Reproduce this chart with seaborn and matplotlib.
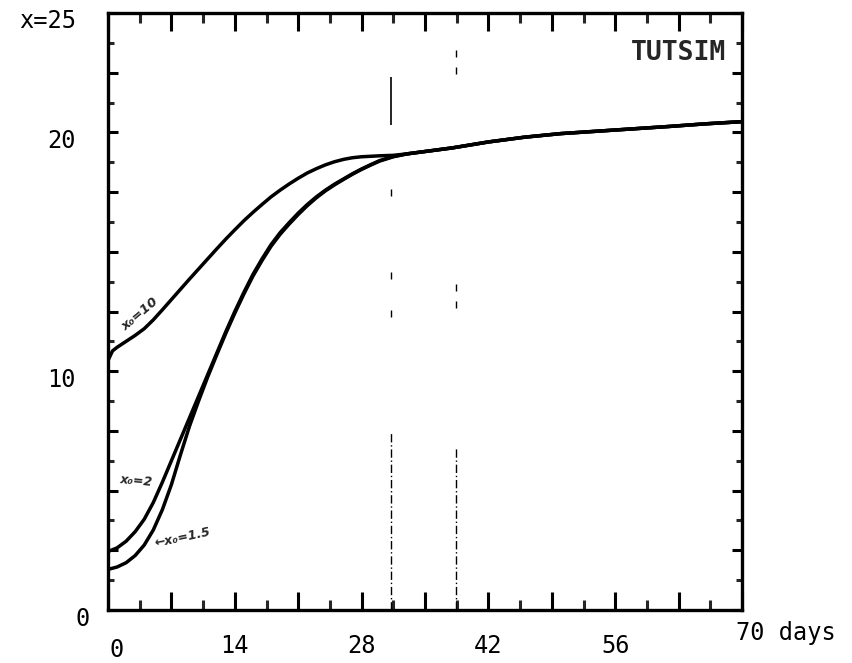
import numpy as np
import pandas as pd
import matplotlib
matplotlib.use("Agg")
import matplotlib.pyplot as plt
import matplotlib.transforms as mtransforms
from matplotlib.ticker import FixedLocator
import seaborn as sns

# ---------------- data ----------------
days_x10 = [0, 0.5, 1, 2, 3, 4, 5, 6, 7, 8, 9, 10, 11, 12, 13, 14, 15, 16, 17, 18, 19, 20,
            21, 22, 23, 24, 25, 26, 27, 28, 29, 30]
vals_x10 = [10.45, 10.85, 11.0, 11.25, 11.5, 11.78, 12.15, 12.57, 13.0, 13.43, 13.86, 14.28,
            14.7, 15.12, 15.53, 15.92, 16.3, 16.65, 16.98, 17.3, 17.58, 17.84, 18.08, 18.3,
            18.48, 18.64, 18.77, 18.87, 18.94, 18.98, 19.0, 19.02]

days_x2 = [0, 1, 2, 3, 4, 5, 6, 7, 8, 9, 10, 11, 12, 13, 14, 15, 16, 17, 18, 19, 20, 21, 22,
           23, 24, 25, 26, 27, 28, 29, 30]
vals_x2 = [2.45, 2.6, 2.88, 3.28, 3.8, 4.5, 5.35, 6.25, 7.15, 8.05, 8.95, 9.85, 10.75, 11.65,
           12.5, 13.3, 14.05, 14.7, 15.3, 15.8, 16.22, 16.62, 16.98, 17.3, 17.58, 17.83, 18.05,
           18.27, 18.47, 18.65, 18.82]

days_x15 = [0, 1, 2, 3, 4, 5, 6, 7, 8, 9, 10, 11, 12, 13, 14, 15, 16, 17, 18, 19, 20, 21, 22,
            23, 24, 25, 26, 27, 28, 29, 30]
vals_x15 = [1.7, 1.8, 1.98, 2.28, 2.72, 3.35, 4.2, 5.25, 6.5, 7.7, 8.75, 9.75, 10.68, 11.58,
            12.43, 13.23, 13.98, 14.63, 15.23, 15.73, 16.16, 16.56, 16.93, 17.26, 17.55, 17.8,
            18.03, 18.25, 18.45, 18.63, 18.8]

# ends of the three curves where they join (day 31.5), then the shared tail
join_vals = [19.04, 18.99, 18.98]
days_tail = [33, 35, 38, 42, 46, 50, 54, 58, 62, 66, 70]
vals_tail = [19.1, 19.2, 19.35, 19.6, 19.8, 19.95, 20.05, 20.15, 20.25, 20.36, 20.45]

curve_names = ["x₀=10", "x₀=2", "x₀=1.5"]

# vertical dash-dot markers: (day, ymin, ymax)
vline_dashdot = [(31.2, 0.0, 7.4), (38.4, 0.0, 6.8)]
vline_solid = [(31.2, 20.3, 22.3)]
vline_dots = [(31.2, 17.5), (31.2, 14.0), (31.2, 12.4), (38.4, 13.5), (38.4, 12.8),
              (38.4, 23.3), (38.4, 22.6)]

x_major = [0, 7, 14, 21, 28, 35, 42, 49, 56, 63, 70]
x_labels = ["0", "", "14", "", "28", "", "42", "", "56", "", "70 days"]
y_major = [0, 2.5, 5, 7.5, 10, 12.5, 15, 17.5, 20, 22.5, 25]
y_labels = ["0", "", "", "", "10", "", "", "", "20", "", "x=25"]

# ---------------- build table ----------------
rows = []
for name, d, v, j in zip(curve_names, [days_x10, days_x2, days_x15],
                         [vals_x10, vals_x2, vals_x15], join_vals):
    for xx, yy in zip(list(d) + [31.5] + days_tail, list(v) + [j] + vals_tail):
        rows.append({"curve": name, "day": xx, "value": yy})
df = pd.DataFrame(rows)

sns.set_style("white")
plt.rcParams["font.family"] = ["DejaVu Sans Mono", "DejaVu Sans"]

fig = plt.figure(figsize=(8.53, 6.63), dpi=100)
ax = fig.add_axes([108 / 853, 1 - 610 / 663, (742 - 108) / 853, (610 - 13) / 663])

sns.lineplot(data=df, x="day", y="value", hue="curve", palette=["black"] * 3,
             estimator=None, sort=False, legend=False, linewidth=2.5, ax=ax)
for ln in ax.lines:
    ln.set_solid_joinstyle("round")
    ln.set_solid_capstyle("round")

for d, y0, y1 in vline_dashdot:
    ax.vlines(d, y0, y1, colors="black", linestyles=(0, (6, 2, 1, 2)), linewidth=1.0)
for d, y0, y1 in vline_solid:
    ax.vlines(d, y0, y1, colors="black", linewidth=1.2)
for d, y in vline_dots:
    ax.vlines(d, y - 0.15, y + 0.15, colors="black", linewidth=1.0)

ax.set_xlim(0, 70)
ax.set_ylim(0, 25)
ax.set_xlabel("")
ax.set_ylabel("")

for s in ax.spines.values():
    s.set_visible(True)
    s.set_color("black")
    s.set_linewidth(2.4)

ax.xaxis.set_major_locator(FixedLocator(x_major))
ax.xaxis.set_minor_locator(FixedLocator([3.5 + 7 * i for i in range(10)]))
ax.set_xticklabels(x_labels)
ax.yaxis.set_major_locator(FixedLocator(y_major))
ax.yaxis.set_minor_locator(FixedLocator([1.25 + 2.5 * i for i in range(10)]))
ax.set_yticklabels(y_labels)

ax.tick_params(axis="x", which="major", direction="in", length=13, width=2.2,
               top=True, bottom=True, labelsize=17, pad=17, colors="black")
ax.tick_params(axis="x", which="minor", direction="in", length=7.5, width=2.2,
               top=True, bottom=True)
ax.tick_params(axis="y", which="major", direction="in", length=7.5, width=2.2,
               left=True, right=True, labelsize=17, pad=23, colors="black")
ax.tick_params(axis="y", which="minor", direction="in", length=4.5, width=2.2,
               left=True, right=True)

# alignment tweaks of tick labels
yl = ax.get_yticklabels()
for lab in yl:
    lab.set_transform(lab.get_transform() + mtransforms.ScaledTranslation(0, -6 / 100, fig.dpi_scale_trans))
yl[0].set_transform(yl[0].get_transform() + mtransforms.ScaledTranslation(14 / 100, 0, fig.dpi_scale_trans))
xl = ax.get_xticklabels()
xl[0].set_transform(xl[0].get_transform() + mtransforms.ScaledTranslation(9 / 100, -4 / 100, fig.dpi_scale_trans))
xl[-1].set_horizontalalignment("left")
xl[-1].set_transform(xl[-1].get_transform() + mtransforms.ScaledTranslation(-6 / 100, 13 / 100, fig.dpi_scale_trans))

# title tag and curve annotations
ax.text(0.975, 0.955, "TUTSIM", transform=ax.transAxes, ha="right", va="top",
        fontsize=19, fontweight="bold", family=["DejaVu Sans Mono"])
ax.text(1.2, 12.4, curve_names[0], rotation=40, fontsize=9.5, style="italic", fontweight="bold",
        family=["DejaVu Sans"], ha="left", va="center")
ax.text(1.2, 5.4, curve_names[1], rotation=-5, fontsize=9, style="italic", fontweight="bold",
        family=["DejaVu Sans"], ha="left", va="center")
ax.text(5.0, 3.05, "←" + curve_names[2], rotation=12, fontsize=9, style="italic", fontweight="bold",
        family=["DejaVu Sans"], ha="left", va="center")

fig.savefig("out.png", dpi=100)
